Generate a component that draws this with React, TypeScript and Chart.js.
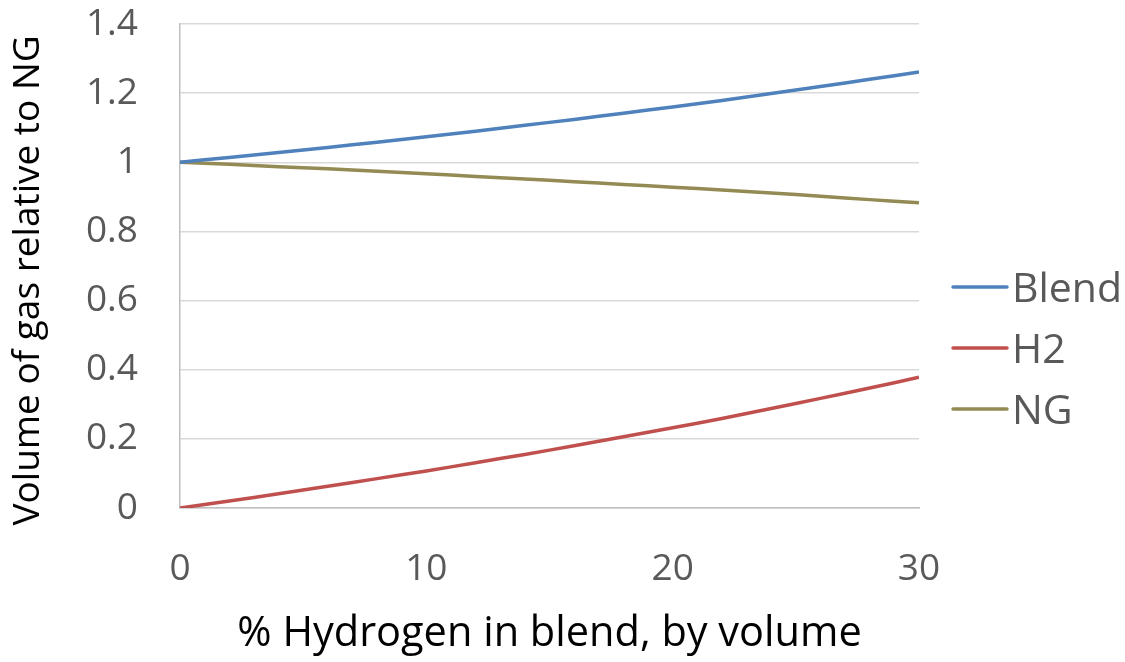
import React, { useEffect, useRef } from "react";
import { Chart, registerables } from "chart.js";

Chart.register(...registerables);

const hydrogenPercent = [0, 2, 4, 6, 8, 10, 12, 14, 16, 18, 20, 22, 24, 26, 28, 30];
const blendValues = [1.0, 1.014, 1.028, 1.043, 1.058, 1.074, 1.09, 1.107, 1.124, 1.142, 1.16, 1.179, 1.199, 1.219, 1.24, 1.261];
const h2Values = [0.0, 0.02, 0.041, 0.063, 0.085, 0.107, 0.131, 0.155, 0.18, 0.206, 0.232, 0.259, 0.288, 0.317, 0.347, 0.378];
const ngValues = [1.0, 0.994, 0.987, 0.981, 0.974, 0.967, 0.959, 0.952, 0.944, 0.936, 0.928, 0.92, 0.911, 0.902, 0.892, 0.883];
const seriesNames = ["Blend", "H2", "NG"];
const seriesColors = ["#4F81BD", "#C0504D", "#948A54"];
const yTicks = [0, 0.2, 0.4, 0.6, 0.8, 1, 1.2, 1.4];
const xTicks = [0, 10, 20, 30];
const xTitle = "% Hydrogen in blend, by volume";
const yTitle = "Volume of gas relative to NG";

const FONT = "'Open Sans', 'Noto Sans', sans-serif";

const legendPlugin = {
  id: "customLegend",
  afterDraw(chart: any) {
    const ctx = chart.ctx;
    const size = 41;
    const left = chart.chartArea.right + 34;
    const lineLen = 54;
    const firstY = 287;
    const gap = 61;
    ctx.save();
    chart.data.datasets.forEach((ds: any, i: number) => {
      const y = firstY + i * gap;
      ctx.strokeStyle = ds.borderColor;
      ctx.lineWidth = 3.5;
      ctx.lineCap = "round";
      ctx.beginPath();
      ctx.moveTo(left, y);
      ctx.lineTo(left + lineLen, y);
      ctx.stroke();
      ctx.font = `${size}px ${FONT}`;
      ctx.fillStyle = "#595959";
      ctx.textBaseline = "alphabetic";
      ctx.textAlign = "left";
      ctx.fillText(ds.label, left + lineLen + 5, y + size * 0.357);
    });
    ctx.restore();
  },
};

export default function App() {
  const ref = useRef<HTMLCanvasElement>(null);
  useEffect(() => {
    if (!ref.current) return;
    const valuesList = [blendValues, h2Values, ngValues];
    const chart = new Chart(ref.current, {
      type: "line",
      data: {
        datasets: seriesNames.map((name, i) => ({
          label: name,
          data: hydrogenPercent.map((x, j) => ({ x, y: valuesList[i][j] })),
          borderColor: seriesColors[i],
          backgroundColor: seriesColors[i],
          borderWidth: 3.5,
          pointRadius: 0,
          tension: 0.3,
          fill: false,
        })),
      },
      options: {
        animation: false,
        responsive: false,
        maintainAspectRatio: false,
        layout: { padding: { top: 24, right: 206, bottom: 0, left: 0 } },
        plugins: {
          legend: { display: false },
          tooltip: { enabled: false },
        },
        scales: {
          x: {
            type: "linear",
            min: 0,
            max: 30,
            afterFit: (s: any) => {
              s.height = 154;
              s.paddingLeft = 0;
              s.paddingRight = 0;
            },
            afterBuildTicks: (s: any) => {
              s.ticks = xTicks.map((v) => ({ value: v }));
            },
            grid: { display: false, drawTicks: false },
            border: { display: true, color: "#BFBFBF", width: 1.5 },
            ticks: {
              padding: 39,
              color: "#595959",
              font: { family: FONT, size: 37 },
              maxRotation: 0,
              autoSkip: false,
            },
            title: {
              display: true,
              text: xTitle,
              color: "#000000",
              font: { family: FONT, size: 41.5 },
              padding: 3,
            },
          },
          y: {
            type: "linear",
            min: 0,
            max: 1.4,
            afterFit: (s: any) => {
              s.width = 180;
              s.paddingTop = 0;
              s.paddingBottom = 0;
            },
            afterBuildTicks: (s: any) => {
              s.ticks = yTicks.map((v) => ({ value: v }));
            },
            grid: { color: "#D9D9D9", lineWidth: 1.5, drawTicks: false },
            border: { display: true, color: "#BFBFBF", width: 1.5 },
            ticks: {
              padding: 42,
              color: "#595959",
              font: { family: FONT, size: 37 },
              autoSkip: false,
              callback: (v: any) => String(Math.round(Number(v) * 10) / 10),
            },
            title: {
              display: true,
              text: yTitle + "   ",
              color: "#000000",
              font: { family: FONT, size: 37 },
              padding: 6,
            },
          },
        },
      },
      plugins: [legendPlugin],
    });
    return () => chart.destroy();
  }, []);
  return (
    <div style={{ position: "fixed", left: 0, top: 0, width: 1125, height: 662, background: "#fff" }}>
      <canvas ref={ref} width={1125} height={662} style={{ width: 1125, height: 662 }} />
    </div>
  );
}
